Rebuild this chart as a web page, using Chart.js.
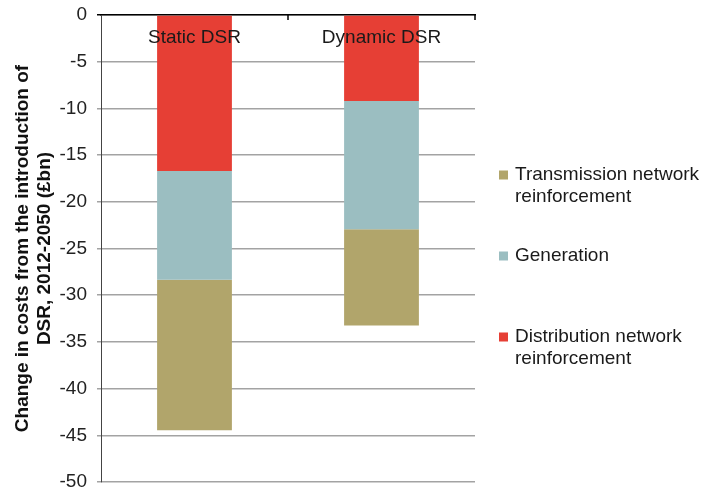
<!DOCTYPE html>
<html>
<head>
<meta charset="utf-8">
<script src="https://cdn.jsdelivr.net/npm/chart.js@4.4.1/dist/chart.umd.min.js"></script>
<style>
  html, body { margin: 0; padding: 0; background: #fff; }
  canvas { display: block; }
</style>
</head>
<body>
<canvas id="chart" width="702" height="490"></canvas>
<script>
// Scenario categories
const categories = ['Static DSR', 'Dynamic DSR'];

// Cost change by component (£bn); stacked downward from zero
const distribution = [-16.7, -9.2];
const generation = [-11.65, -13.75];
const transmission = [-16.1, -10.3];

// Series names (split across lines as shown in the key)
const distributionLabel = ['Distribution network', 'reinforcement'];
const generationLabel = ['Generation'];
const transmissionLabel = ['Transmission network', 'reinforcement'];

// Value axis
const yMin = -50;
const yMax = 0;
const yStep = 5;
const yTitle = ['Change in costs from the introduction of', 'DSR, 2012-2050 (£bn)'];

const FONT = '"Liberation Sans", Arial, Helvetica, sans-serif';

// Category names drawn just inside the top of the plot, over the bars
const categoryLabelPlugin = {
  id: 'categoryLabels',
  afterDatasetsDraw(chart) {
    const { ctx, chartArea, scales } = chart;
    ctx.save();
    ctx.font = '19px ' + FONT;
    ctx.fillStyle = '#1a1a1a';
    ctx.textAlign = 'center';
    ctx.textBaseline = 'middle';
    chart.data.labels.forEach((lab, i) => {
      ctx.fillText(lab, scales.x.getPixelForValue(i), chartArea.top + 23);
    });
    ctx.restore();
  }
};

// Short tick marks on the top axis at category boundaries
const categoryTickPlugin = {
  id: 'categoryTicks',
  afterDraw(chart) {
    const { ctx, chartArea, scales } = chart;
    const x = scales.x;
    const n = chart.data.labels.length;
    ctx.save();
    ctx.strokeStyle = '#000';
    ctx.lineWidth = 1.5;
    for (let i = 0; i < n; i++) {
      const px = i < n - 1
        ? (x.getPixelForValue(i) + x.getPixelForValue(i + 1)) / 2
        : chartArea.right;
      ctx.beginPath();
      ctx.moveTo(px, chartArea.top);
      ctx.lineTo(px, chartArea.top + 5);
      ctx.stroke();
    }
    ctx.restore();
  }
};

// Key on the right, listed in reverse stacking order
const sideLegendPlugin = {
  id: 'sideLegend',
  afterDraw(chart) {
    const { ctx, chartArea } = chart;
    const boxX = chartArea.right + 24;
    const textX = boxX + 16;
    const startY = 175;
    const entryStep = 81;
    const lineH = 22;
    const sets = chart.data.datasets.slice().reverse();
    ctx.save();
    ctx.font = '19px ' + FONT;
    ctx.textAlign = 'left';
    ctx.textBaseline = 'middle';
    sets.forEach((ds, k) => {
      const y0 = startY + k * entryStep;
      ctx.fillStyle = ds.backgroundColor;
      ctx.fillRect(boxX, y0 - 4.5, 9, 9);
      ctx.fillStyle = '#1a1a1a';
      ds.label.forEach((line, j) => ctx.fillText(line, textX, y0 + j * lineH));
    });
    ctx.restore();
  }
};

new Chart(document.getElementById('chart'), {
  type: 'bar',
  data: {
    labels: categories,
    datasets: [
      { label: distributionLabel, data: distribution, backgroundColor: '#e63f35' },
      { label: generationLabel, data: generation, backgroundColor: '#9bbec1' },
      { label: transmissionLabel, data: transmission, backgroundColor: '#b1a56b' }
    ]
  },
  options: {
    responsive: false,
    animation: false,
    layout: { padding: { left: 0, top: 15, right: 227, bottom: 8 } },
    datasets: {
      bar: { categoryPercentage: 1.0, barPercentage: 0.4, borderWidth: 0 }
    },
    plugins: {
      legend: { display: false },
      tooltip: { enabled: false }
    },
    scales: {
      x: {
        type: 'category',
        position: 'top',
        stacked: true,
        offset: true,
        grid: { display: false },
        border: { display: true, color: '#000', width: 1.5 },
        ticks: { display: false },
        afterFit(scale) {
          scale.height = 0;
          scale.paddingLeft = 0;
          scale.paddingRight = 0;
        }
      },
      y: {
        stacked: true,
        min: yMin,
        max: yMax,
        ticks: {
          stepSize: yStep,
          padding: 10,
          color: '#222',
          font: { family: FONT, size: 19 }
        },
        grid: {
          color: '#a3a3a3',
          lineWidth: 1.5,
          tickLength: 4,
          tickColor: ctx => (ctx.tick && ctx.tick.value === 0 ? '#000' : '#a3a3a3')
        },
        border: { display: true, color: '#444', width: 1 },
        title: {
          display: true,
          text: yTitle,
          color: '#111',
          font: { family: FONT, size: 19, weight: 'bold' },
          padding: { top: 11, bottom: 0 }
        },
        afterFit(scale) {
          scale.width = 101;
          scale.paddingTop = 0;
          scale.paddingBottom = 0;
        }
      }
    }
  },
  plugins: [categoryLabelPlugin, categoryTickPlugin, sideLegendPlugin]
});
</script>
</body>
</html>
